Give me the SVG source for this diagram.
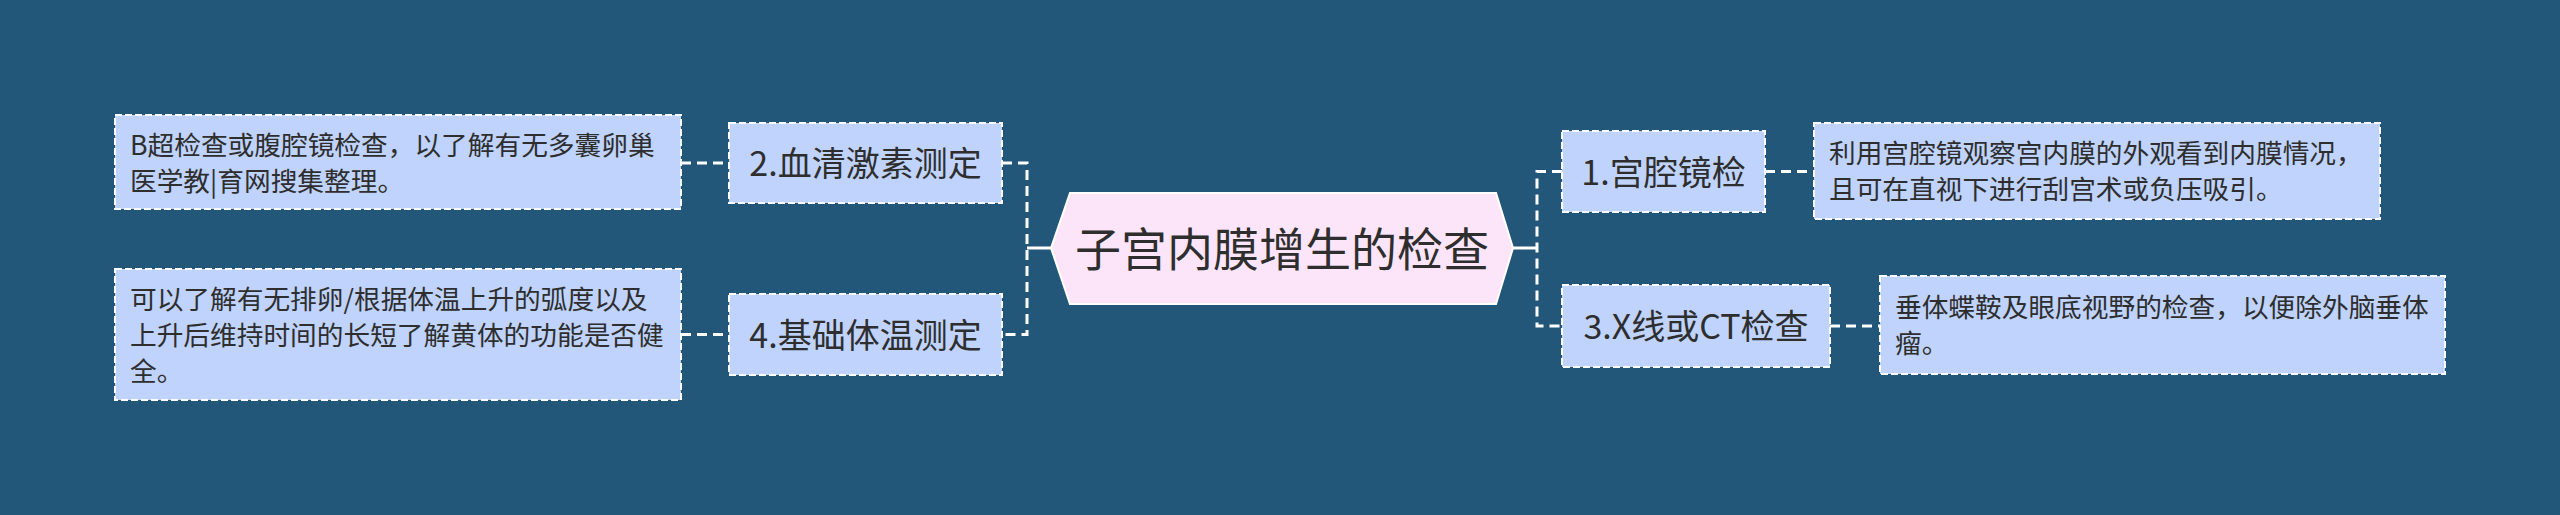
<svg xmlns="http://www.w3.org/2000/svg" width="2560" height="515" viewBox="0 0 2560 515">
<style>
.bg{fill:#235779}
.box{fill:#bfd3fc;stroke:#ffffff;stroke-width:2;stroke-dasharray:7 3}
.hex{fill:#fde5f9;stroke:#ffffff;stroke-width:2}
.t{font-family:"Noto Sans CJK SC","Noto Sans",sans-serif;fill:#2e2e2e}
.small{font-size:26.7px}
.mid{font-size:34px;text-anchor:middle}
.big{font-size:46px;text-anchor:middle}
.dash{fill:none;stroke:#ffffff;stroke-width:3;stroke-dasharray:10 6}
.solid{fill:none;stroke:#ffffff;stroke-width:3}
</style>
<rect class="bg" x="0" y="0" width="2560" height="515"/>
<g id="connectors">
<path class="dash" d="M681 163H729"/>
<path class="dash" d="M681 334.5H729"/>
<path class="dash" d="M1002 163H1027V334.5H1002"/>
<path class="solid" d="M1027 248H1051"/>
<path class="solid" d="M1513 248H1537"/>
<path class="dash" d="M1562 171.5H1537V326H1562"/>
<path class="dash" d="M1765 171.5H1814"/>
<path class="dash" d="M1830 326H1880"/>
</g>
<g id="root">
<polygon class="hex" points="1051,248 1070,193 1496,193 1513,248 1496,304 1070,304"/>
<text class="t big" x="1282" y="265.5">子宫内膜增生的检查</text>
</g>
<g id="n2">
<rect class="box" x="729" y="123" width="273" height="80"/>
<text class="t mid" x="865.5" y="176">2.血清激素测定</text>
</g>
<g id="n2d">
<rect class="box" x="115" y="115" width="566" height="94"/>
<text class="t small" x="130" y="154.5">B超检查或腹腔镜检查，以了解有无多囊卵巢</text>
<text class="t small" x="130" y="190.5">医学教|育网搜集整理。</text>
</g>
<g id="n4">
<rect class="box" x="729" y="294" width="273" height="81"/>
<text class="t mid" x="865.5" y="347.5">4.基础体温测定</text>
</g>
<g id="n4d">
<rect class="box" x="115" y="269" width="566" height="131"/>
<text class="t small" x="130" y="308.5">可以了解有无排卵/根据体温上升的弧度以及</text>
<text class="t small" x="130" y="344.5">上升后维持时间的长短了解黄体的功能是否健</text>
<text class="t small" x="130" y="380.5">全。</text>
</g>
<g id="n1">
<rect class="box" x="1562" y="131" width="203" height="81"/>
<text class="t mid" x="1663.5" y="184.5">1.宫腔镜检</text>
</g>
<g id="n1d">
<rect class="box" x="1814" y="123" width="566" height="96"/>
<text class="t small" x="1829" y="162.5">利用宫腔镜观察宫内膜的外观看到内膜情况，</text>
<text class="t small" x="1829" y="198.5">且可在直视下进行刮宫术或负压吸引。</text>
</g>
<g id="n3">
<rect class="box" x="1562" y="285" width="268" height="82"/>
<text class="t mid" x="1696" y="339">3.X线或CT检查</text>
</g>
<g id="n3d">
<rect class="box" x="1880" y="276" width="565" height="98"/>
<text class="t small" x="1895" y="317">垂体蝶鞍及眼底视野的检查，以便除外脑垂体</text>
<text class="t small" x="1895" y="353">瘤。</text>
</g>
</svg>
